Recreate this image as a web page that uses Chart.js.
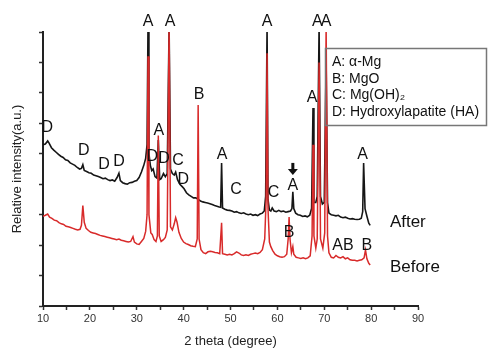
<!DOCTYPE html>
<html>
<head>
<meta charset="utf-8">
<script src="https://cdn.jsdelivr.net/npm/chart.js@4/dist/chart.umd.min.js"></script>
<style>
  html, body { margin: 0; padding: 0; background: #fff; }
  #wrap { width: 488px; height: 349px; position: relative; }
</style>
</head>
<body>
<div id="wrap"><canvas id="xrd"></canvas></div>
<script>
// XRD patterns, 2 theta (degree) vs relative intensity (a.u.)
const afterX = [10.0,10.5,11.0,11.3,11.8,12.3,12.8,13.3,13.8,14.3,14.8,15.3,15.8,16.3,16.8,17.3,17.8,18.2,18.5,18.8,19.3,19.8,20.3,20.8,21.3,21.8,22.3,22.8,23.3,23.8,24.3,24.8,25.3,25.8,26.2,26.5,27.0,27.5,28.0,28.5,29.0,29.5,30.0,30.5,31.0,31.5,31.9,32.2,32.4,32.6,32.9,33.2,33.5,33.9,34.3,34.6,34.9,35.2,35.7,36.1,36.5,36.9,37.2,37.6,38.0,38.3,38.7,39.2,39.7,40.1,40.6,41.1,41.6,42.1,42.6,43.1,43.6,44.1,44.6,45.1,45.6,46.1,46.6,47.1,47.6,47.9,48.1,48.3,48.8,49.3,49.8,50.3,50.8,51.3,51.8,52.3,52.8,53.3,53.8,54.3,54.8,55.3,55.8,56.3,56.8,57.2,57.5,57.8,58.0,58.3,58.6,58.9,59.3,59.8,60.3,60.8,61.3,61.8,62.3,62.8,63.1,63.3,63.5,63.9,64.4,64.9,65.4,65.9,66.4,66.9,67.3,67.6,67.8,68.2,68.5,68.9,69.2,69.6,70.0,70.4,70.7,71.0,71.5,72.0,72.5,73.0,73.5,74.0,74.5,75.0,75.5,76.0,76.5,77.0,77.5,77.9,78.2,78.4,78.7,79.1,79.5,79.8];
const afterY = [5.30,5.32,5.42,5.35,5.20,5.12,5.05,4.98,4.92,4.88,4.80,4.78,4.70,4.66,4.62,4.55,4.50,4.52,4.64,4.45,4.42,4.38,4.36,4.30,4.28,4.25,4.22,4.18,4.20,4.15,4.12,4.14,4.10,4.22,4.36,4.12,4.05,4.02,4.00,4.05,4.06,4.10,4.12,4.22,4.40,4.62,4.85,5.30,9.20,5.00,4.62,4.45,4.50,4.25,4.20,5.45,4.15,4.18,4.35,4.25,4.35,9.20,4.50,4.35,4.30,4.40,4.15,4.00,3.92,3.85,3.72,3.65,3.60,3.55,3.55,3.50,3.45,3.42,3.40,3.38,3.36,3.33,3.30,3.28,3.25,3.24,4.70,3.22,3.18,3.15,3.14,3.12,3.08,3.10,3.06,3.04,3.06,3.02,3.00,3.02,2.98,3.00,2.97,3.02,3.05,3.12,3.60,9.20,3.50,3.15,3.12,3.22,3.12,3.10,3.14,3.10,3.12,3.08,3.10,3.12,3.20,3.75,3.20,3.05,3.00,2.98,2.94,2.96,2.93,2.98,3.20,6.50,3.40,3.40,3.60,9.20,3.60,3.35,3.40,8.00,3.40,3.05,3.00,2.98,2.96,2.98,2.92,2.90,2.92,2.88,2.86,2.87,2.85,2.84,2.85,2.88,3.10,4.70,3.20,2.95,2.72,2.65,2.60];

const beforeX = [10.0,10.5,11.0,11.4,11.9,12.4,12.9,13.4,13.9,14.4,14.9,15.4,15.9,16.4,16.9,17.4,17.9,18.2,18.5,18.8,19.2,19.7,20.2,20.7,21.2,21.7,22.2,22.7,23.2,23.7,24.2,24.7,25.2,25.7,26.2,26.7,27.2,27.7,28.2,28.7,29.2,29.5,30.0,30.5,31.0,31.5,31.9,32.2,32.4,32.6,33.0,33.3,33.7,34.1,34.4,34.6,34.8,35.2,35.7,36.1,36.5,36.9,37.2,37.6,38.0,38.3,38.6,39.0,39.5,40.0,40.5,41.0,41.5,42.0,42.5,42.9,43.1,43.3,43.7,44.2,44.7,45.2,45.7,46.2,46.7,47.2,47.7,48.1,48.3,48.8,49.3,49.8,50.3,50.8,51.3,51.8,52.3,52.8,53.3,53.8,54.3,54.8,55.3,55.8,56.3,56.8,57.3,57.6,57.8,58.0,58.3,58.6,59.0,59.5,60.0,60.5,61.0,61.5,62.0,62.3,62.5,62.7,63.0,63.3,63.5,64.0,64.5,65.0,65.5,66.0,66.5,67.0,67.4,67.6,67.8,68.2,68.5,68.9,69.2,69.7,70.1,70.4,70.7,71.0,71.5,72.0,72.5,73.0,73.5,74.0,74.5,75.0,75.5,76.0,76.5,77.0,77.5,78.0,78.5,78.8,79.1,79.5,79.8];
const beforeY = [2.95,2.98,3.02,2.92,2.88,2.82,2.80,2.74,2.70,2.68,2.62,2.60,2.58,2.55,2.52,2.50,2.52,2.65,3.30,2.75,2.55,2.48,2.42,2.40,2.38,2.35,2.32,2.30,2.28,2.26,2.24,2.22,2.20,2.18,2.20,2.16,2.14,2.12,2.10,2.12,2.28,2.10,2.04,2.02,2.12,2.22,2.45,3.00,8.20,3.00,2.40,2.35,2.18,2.12,2.30,5.60,2.30,2.12,2.18,2.25,2.50,9.20,2.60,2.50,2.70,2.90,2.75,2.42,2.22,2.10,2.05,2.02,1.98,1.96,1.95,2.20,6.60,2.20,1.85,1.75,1.72,1.78,1.80,1.78,1.76,1.75,1.72,2.73,1.72,1.70,1.68,1.70,1.68,1.72,1.78,1.74,1.68,1.66,1.68,1.66,1.70,1.72,1.74,1.72,1.76,1.85,2.20,3.50,8.30,3.20,2.10,1.95,1.82,1.70,1.65,1.62,1.60,1.62,1.70,2.20,2.92,2.20,1.75,1.95,1.70,1.60,1.58,1.56,1.58,1.55,1.58,1.65,2.30,5.30,2.30,1.90,2.20,8.00,2.20,1.90,2.40,9.20,2.30,1.75,1.60,1.58,1.66,1.60,1.58,1.62,1.55,1.58,1.52,1.50,1.50,1.48,1.50,1.52,1.58,1.84,1.55,1.40,1.35];

const xTicks = [10, 20, 30, 40, 50, 60, 70, 80, 90];

// peak letters (position in data units)
const peakText = ['D','D','D','D','D','A','D','C','D','A','A','B','A','C','A','C','A','B','A','A','A','A','AB','B'];
const peakX = [10.9,18.7,23.0,26.2,33.3,34.7,35.8,38.8,39.9,32.4,37.1,43.3,48.2,51.2,57.8,59.2,63.3,62.5,67.4,68.5,70.4,78.2,74.0,79.1];
const peakY = [5.85,5.09,4.66,4.73,4.90,5.75,4.83,4.78,4.14,9.33,9.33,6.96,4.96,3.81,9.33,3.74,3.97,2.40,6.83,9.33,9.33,4.96,2.00,2.00];

// down arrow marking the new peak after immersion
const arrowX = [63.3];
const arrowY = [4.47];

const seriesNames = ['After', 'Before'];
const seriesNameX = [84.0, 84.0];
const seriesNameY = [2.76, 1.28];

const phaseNotes = ['A: \u03b1-Mg', 'B: MgO', 'C: Mg(OH)\u2082', 'D: Hydroxylapatite (HA)'];

const FONT = "'Liberation Sans', Arial, sans-serif";

const toPts = (xs, ys) => xs.map((x, i) => ({ x, y: ys[i] }));

const textPlugin = {
  id: 'xrdText',
  afterDatasetsDraw(chart) {
    const { ctx, scales: { x, y } } = chart;
    ctx.save();
    ctx.fillStyle = '#111';
    ctx.textAlign = 'center';
    ctx.textBaseline = 'middle';
    ctx.font = "16px " + FONT;
    peakText.forEach((t, i) => {
      ctx.fillText(t, x.getPixelForValue(peakX[i]), y.getPixelForValue(peakY[i]));
    });

    // thick down arrow
    arrowX.forEach((ax, i) => {
      const px = x.getPixelForValue(ax), py = y.getPixelForValue(arrowY[i]);
      ctx.fillRect(px - 1.5, py - 7, 3, 7);
      ctx.beginPath();
      ctx.moveTo(px - 5, py - 1);
      ctx.lineTo(px + 5, py - 1);
      ctx.lineTo(px, py + 5);
      ctx.closePath();
      ctx.fill();
    });

    ctx.textAlign = 'left';
    ctx.font = "17px " + FONT;
    seriesNames.forEach((t, i) => {
      ctx.fillText(t, x.getPixelForValue(seriesNameX[i]), y.getPixelForValue(seriesNameY[i]));
    });

    // phase key box
    ctx.strokeStyle = '#777';
    ctx.lineWidth = 1.5;
    ctx.strokeRect(325.5, 48.5, 161, 77);
    ctx.font = "14px " + FONT;
    phaseNotes.forEach((t, i) => {
      ctx.fillText(t, 332, 62 + i * 16.7);
    });
    ctx.restore();
  }
};

new Chart(document.getElementById('xrd'), {
  type: 'line',
  data: {
    datasets: [
      {
        label: 'Before',
        data: toPts(beforeX, beforeY),
        borderColor: '#d82a2a',
        borderWidth: 1.5,
        pointRadius: 0,
        tension: 0,
        order: 0
      },
      {
        label: 'After',
        data: toPts(afterX, afterY),
        borderColor: '#161616',
        borderWidth: 1.6,
        pointRadius: 0,
        tension: 0,
        order: 1
      }
    ]
  },
  options: {
    responsive: true,
    maintainAspectRatio: false,
    animation: false,
    layout: { padding: { top: 32, right: 70, left: 0, bottom: 0 } },
    plugins: {
      legend: { display: false },
      tooltip: { enabled: false }
    },
    scales: {
      x: {
        type: 'linear',
        min: 10,
        max: 90,
        afterFit: (s) => { s.height = 43; },
        afterBuildTicks: (s) => {
          s.ticks = [];
          for (let v = 10; v <= 90; v += 5) s.ticks.push({ value: v });
        },
        ticks: {
          autoSkip: false,
          maxRotation: 0,
          padding: 2,
          color: '#333',
          font: { family: FONT, size: 11 },
          callback: (v) => (xTicks.includes(v) ? String(v) : '')
        },
        grid: { drawOnChartArea: false, drawTicks: true, tickLength: 4, color: '#333', tickWidth: 1.5 },
        border: { color: '#222', width: 2 },
        title: {
          display: true,
          text: '2 theta (degree)',
          color: '#222',
          font: { family: FONT, size: 13 },
          padding: { top: 0, bottom: 0 }
        }
      },
      y: {
        min: 0,
        max: 9,
        afterFit: (s) => { s.width = 43; },
        ticks: { stepSize: 1, callback: () => '' },
        grid: { drawOnChartArea: false, drawTicks: true, tickLength: 4, color: '#333', tickWidth: 1.5 },
        border: { color: '#222', width: 2 },
        title: {
          display: true,
          text: 'Relative intensity(a.u.)',
          color: '#222',
          font: { family: FONT, size: 13 },
          padding: { top: 10, bottom: 0 }
        }
      }
    }
  },
  plugins: [textPlugin]
});
</script>
</body>
</html>
